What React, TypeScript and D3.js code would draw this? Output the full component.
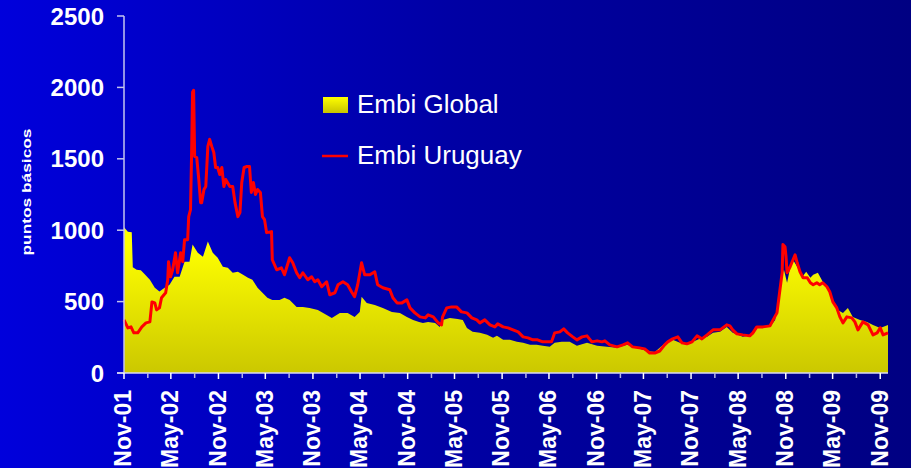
import * as React from 'react'
import { useEffect, useRef } from 'react'
import * as d3 from 'd3'

const width = 911
const height = 468

const yTicks = [0, 500, 1000, 1500, 2000, 2500]
const xLabels = ['Nov-01', 'May-02', 'Nov-02', 'May-03', 'Nov-03', 'May-04', 'Nov-04', 'May-05', 'Nov-05',
    'May-06', 'Nov-06', 'May-07', 'Nov-07', 'May-08', 'Nov-08', 'May-09', 'Nov-09']
const seriesNames = ['Embi Global', 'Embi Uruguay']

// puntos basicos
const embiGlobal: [string, number][] = [
    ['2001-11-01', 1020], ['2001-11-16', 990], ['2001-12-01', 985], ['2001-12-05', 740], ['2001-12-20', 723],
    ['2002-01-05', 720], ['2002-01-21', 690], ['2002-02-09', 653], ['2002-02-28', 597], ['2002-03-18', 570],
    ['2002-04-07', 597], ['2002-04-26', 618], ['2002-05-15', 674], ['2002-06-04', 674], ['2002-06-23', 779],
    ['2002-07-12', 779], ['2002-07-24', 899], ['2002-08-13', 842], ['2002-09-02', 814], ['2002-09-21', 920],
    ['2002-10-10', 842], ['2002-10-29', 807], ['2002-11-18', 744], ['2002-12-07', 737], ['2002-12-26', 702],
    ['2003-01-15', 709], ['2003-02-04', 688], ['2003-02-23', 667], ['2003-03-12', 653], ['2003-04-01', 597],
    ['2003-04-20', 562], ['2003-05-09', 527], ['2003-05-28', 512], ['2003-06-25', 512], ['2003-07-14', 527],
    ['2003-08-03', 512], ['2003-08-30', 463], ['2003-09-23', 463], ['2003-10-19', 456], ['2003-11-20', 442],
    ['2003-12-24', 407], ['2004-01-13', 386], ['2004-02-13', 421], ['2004-03-14', 421], ['2004-04-10', 393],
    ['2004-04-30', 428], ['2004-05-07', 534], ['2004-05-27', 491], ['2004-06-27', 477], ['2004-07-28', 456],
    ['2004-09-01', 428], ['2004-10-02', 421], ['2004-10-29', 393], ['2004-11-22', 372], ['2004-12-15', 358],
    ['2004-12-30', 351], ['2005-01-19', 358], ['2005-02-15', 351], ['2005-03-05', 323], ['2005-03-16', 372],
    ['2005-04-13', 386], ['2005-05-13', 379], ['2005-06-02', 372], ['2005-06-18', 316], ['2005-07-10', 288],
    ['2005-08-07', 281], ['2005-09-04', 267], ['2005-09-27', 246], ['2005-10-12', 260], ['2005-11-05', 232],
    ['2005-12-01', 232], ['2005-12-28', 218], ['2006-01-21', 211], ['2006-02-17', 197], ['2006-03-14', 197],
    ['2006-04-07', 190], ['2006-05-04', 183], ['2006-05-23', 211], ['2006-06-19', 218], ['2006-07-20', 218],
    ['2006-08-17', 190], ['2006-09-25', 211], ['2006-11-03', 190], ['2006-12-11', 183], ['2007-01-19', 176],
    ['2007-02-27', 197], ['2007-04-05', 176], ['2007-05-13', 154], ['2007-06-14', 147], ['2007-07-03', 176],
    ['2007-07-30', 218], ['2007-08-22', 232], ['2007-09-19', 211], ['2007-10-16', 197], ['2007-11-08', 218],
    ['2007-12-05', 239], ['2008-01-02', 253], ['2008-01-25', 281], ['2008-02-21', 288], ['2008-03-18', 323],
    ['2008-04-10', 281], ['2008-05-19', 253], ['2008-06-27', 267], ['2008-07-16', 323], ['2008-09-01', 323],
    ['2008-09-21', 372], ['2008-10-02', 491], ['2008-10-14', 667], ['2008-10-25', 723], ['2008-11-06', 632],
    ['2008-11-18', 737], ['2008-11-29', 793], ['2008-12-15', 744], ['2009-01-04', 674], ['2009-01-19', 709],
    ['2009-02-04', 667], ['2009-02-15', 688], ['2009-03-05', 702], ['2009-03-24', 639], ['2009-04-13', 597],
    ['2009-05-02', 512], ['2009-05-21', 442], ['2009-06-10', 421], ['2009-06-29', 456], ['2009-07-18', 393],
    ['2009-08-15', 372], ['2009-09-11', 358], ['2009-10-04', 337], ['2009-11-01', 316], ['2009-12-01', 337],
]

const embiUruguay: [string, number][] = [
    ['2001-11-01', 372], ['2001-11-16', 316], ['2001-11-28', 323], ['2001-12-09', 281], ['2001-12-24', 281],
    ['2002-01-09', 323], ['2002-01-25', 351], ['2002-02-09', 358], ['2002-02-17', 498], ['2002-02-28', 491],
    ['2002-03-07', 442], ['2002-03-18', 456], ['2002-03-26', 527], ['2002-04-11', 562], ['2002-04-19', 653],
    ['2002-04-22', 779], ['2002-04-30', 674], ['2002-05-08', 723], ['2002-05-19', 842], ['2002-05-27', 702],
    ['2002-06-08', 842], ['2002-06-16', 779], ['2002-06-23', 934], ['2002-07-05', 934], ['2002-07-09', 1095],
    ['2002-07-16', 1144], ['2002-07-20', 1516], ['2002-07-24', 1966], ['2002-07-28', 1980], ['2002-08-01', 1516],
    ['2002-08-09', 1509], ['2002-08-17', 1355], ['2002-08-24', 1193], ['2002-08-28', 1193], ['2002-09-06', 1285],
    ['2002-09-13', 1306], ['2002-09-21', 1587], ['2002-09-28', 1636], ['2002-10-06', 1587], ['2002-10-14', 1544],
    ['2002-10-21', 1439], ['2002-10-29', 1439], ['2002-11-06', 1390], ['2002-11-14', 1439], ['2002-11-22', 1306],
    ['2002-11-29', 1355], ['2002-12-15', 1306], ['2002-12-26', 1306], ['2003-01-04', 1193], ['2003-01-15', 1095],
    ['2003-01-23', 1123], ['2003-01-30', 1334], ['2003-02-08', 1439], ['2003-02-19', 1446], ['2003-03-01', 1446],
    ['2003-03-08', 1264], ['2003-03-16', 1334], ['2003-03-24', 1250], ['2003-04-01', 1285], ['2003-04-12', 1264],
    ['2003-04-20', 1095], ['2003-04-28', 1074], ['2003-05-06', 983], ['2003-05-25', 990], ['2003-05-28', 793],
    ['2003-06-14', 723], ['2003-07-02', 737], ['2003-07-14', 688], ['2003-08-03', 807], ['2003-08-15', 772],
    ['2003-08-30', 702], ['2003-09-11', 667], ['2003-09-23', 702], ['2003-10-12', 653], ['2003-10-27', 674],
    ['2003-11-08', 639], ['2003-11-20', 653], ['2003-12-05', 604], ['2003-12-24', 639], ['2004-01-05', 548],
    ['2004-01-25', 562], ['2004-02-06', 618], ['2004-02-25', 639], ['2004-03-14', 618], ['2004-03-29', 569],
    ['2004-04-10', 534], ['2004-04-22', 618], ['2004-05-07', 772], ['2004-05-19', 688], ['2004-06-08', 688],
    ['2004-06-27', 709], ['2004-07-08', 618], ['2004-07-28', 597], ['2004-08-24', 583], ['2004-09-05', 527],
    ['2004-09-21', 491], ['2004-10-10', 491], ['2004-10-29', 512], ['2004-11-10', 456], ['2004-11-29', 421],
    ['2004-12-19', 393], ['2005-01-08', 386], ['2005-01-19', 407], ['2005-02-08', 393], ['2005-02-27', 351],
    ['2005-03-12', 337], ['2005-03-16', 393], ['2005-04-01', 456], ['2005-04-20', 463], ['2005-05-09', 463],
    ['2005-05-28', 428], ['2005-06-18', 421], ['2005-07-07', 386], ['2005-07-26', 372], ['2005-08-07', 351],
    ['2005-08-26', 372], ['2005-09-15', 337], ['2005-10-04', 323], ['2005-10-15', 344], ['2005-11-05', 323],
    ['2005-11-24', 316], ['2005-12-13', 302], ['2006-01-02', 288], ['2006-01-21', 253], ['2006-02-09', 246],
    ['2006-02-28', 232], ['2006-03-18', 232], ['2006-04-07', 218], ['2006-04-26', 218], ['2006-05-11', 218],
    ['2006-05-23', 281], ['2006-06-12', 288], ['2006-06-27', 309], ['2006-07-12', 281], ['2006-08-01', 253],
    ['2006-08-17', 232], ['2006-09-06', 253], ['2006-09-25', 260], ['2006-10-14', 218], ['2006-11-03', 225],
    ['2006-11-22', 218], ['2006-12-03', 225], ['2006-12-22', 197], ['2007-01-19', 183], ['2007-02-11', 197],
    ['2007-03-01', 211], ['2007-03-20', 183], ['2007-04-16', 176], ['2007-05-06', 169], ['2007-05-25', 140],
    ['2007-06-14', 140], ['2007-07-03', 154], ['2007-07-22', 197], ['2007-08-03', 218], ['2007-08-22', 239],
    ['2007-09-11', 253], ['2007-09-27', 211], ['2007-10-16', 204], ['2007-11-05', 218], ['2007-11-24', 260],
    ['2007-12-13', 239], ['2008-01-02', 267], ['2008-01-25', 302], ['2008-02-21', 302], ['2008-03-18', 337],
    ['2008-03-30', 330], ['2008-04-10', 302], ['2008-04-26', 274], ['2008-05-19', 267], ['2008-06-15', 260],
    ['2008-06-27', 281], ['2008-07-12', 323], ['2008-08-05', 323], ['2008-09-01', 330], ['2008-09-13', 372],
    ['2008-09-28', 421], ['2008-10-06', 534], ['2008-10-18', 702], ['2008-10-21', 899], ['2008-10-29', 884],
    ['2008-11-02', 814], ['2008-11-06', 702], ['2008-11-18', 744], ['2008-11-29', 793], ['2008-12-07', 828],
    ['2008-12-15', 772], ['2008-12-26', 709], ['2009-01-07', 667], ['2009-01-23', 667], ['2009-02-04', 632],
    ['2009-02-15', 618], ['2009-03-01', 632], ['2009-03-12', 618], ['2009-03-24', 632], ['2009-04-09', 604],
    ['2009-04-20', 569], ['2009-05-02', 498], ['2009-05-17', 456], ['2009-05-29', 393], ['2009-06-10', 351],
    ['2009-06-25', 393], ['2009-07-14', 386], ['2009-07-26', 358], ['2009-08-07', 302], ['2009-08-26', 358],
    ['2009-09-15', 337], ['2009-10-04', 267], ['2009-10-20', 281], ['2009-11-01', 316], ['2009-11-12', 267],
    ['2009-12-01', 281],
]

const parseDate = d3.timeParse('%Y-%m-%d')
const parseLabel = d3.timeParse('%b-%y')
const font = "Arial, 'Liberation Sans', sans-serif"

const EmbiChart = () => {
    const chartRef = useRef<SVGSVGElement>(null)

    useEffect((): void => {
        const svg = d3.select(chartRef.current)
        svg.selectAll('*').remove()

        const globalData = embiGlobal.map(([d, v]) => ({ date: parseDate(d) as Date, value: v }))
        const uruguayData = embiUruguay.map(([d, v]) => ({ date: parseDate(d) as Date, value: v }))

        const xScale = d3.scaleTime()
            .domain([parseDate('2001-11-01') as Date, parseDate('2009-12-01') as Date])
            .range([124, 888])

        const yScale = d3.scaleLinear()
            .domain([0, 2500])
            .range([373, 16])

        const defs = svg.append('defs')
        const bg = defs.append('linearGradient').attr('id', 'bgGrad')
            .attr('x1', 0).attr('y1', 0).attr('x2', 1).attr('y2', 0)
        bg.append('stop').attr('offset', '0%').attr('stop-color', '#0000dc')
        bg.append('stop').attr('offset', '50%').attr('stop-color', '#0000a4')
        bg.append('stop').attr('offset', '100%').attr('stop-color', '#000082')

        const yellow = defs.append('linearGradient').attr('id', 'yellowGrad')
            .attr('gradientUnits', 'userSpaceOnUse')
            .attr('x1', 0).attr('y1', yScale(900)).attr('x2', 0).attr('y2', yScale(0))
        yellow.append('stop').attr('offset', '0%').attr('stop-color', '#ffff00')
        yellow.append('stop').attr('offset', '100%').attr('stop-color', '#cbc800')

        const legendGrad = defs.append('linearGradient').attr('id', 'legendGrad')
            .attr('x1', 0).attr('y1', 0).attr('x2', 0).attr('y2', 1)
        legendGrad.append('stop').attr('offset', '0%').attr('stop-color', '#ffff00')
        legendGrad.append('stop').attr('offset', '100%').attr('stop-color', '#c8c400')

        svg.append('rect')
            .attr('width', width)
            .attr('height', height)
            .attr('fill', 'url(#bgGrad)')

        const area = d3.area<{ date: Date, value: number }>()
            .x(d => xScale(d.date))
            .y0(yScale(0))
            .y1(d => yScale(d.value))

        svg.append('path')
            .datum(globalData)
            .attr('d', area)
            .attr('fill', 'url(#yellowGrad)')

        const line = d3.line<{ date: Date, value: number }>()
            .x(d => xScale(d.date))
            .y(d => yScale(d.value))

        svg.append('path')
            .datum(uruguayData)
            .attr('d', line)
            .attr('fill', 'none')
            .attr('stroke', '#ff0000')
            .attr('stroke-width', 3)
            .attr('stroke-linejoin', 'round')

        // y axis
        svg.append('line')
            .attr('x1', 124).attr('x2', 124)
            .attr('y1', yScale(2500)).attr('y2', yScale(0))
            .attr('stroke', '#c4c4ee').attr('stroke-width', 1.5)

        svg.selectAll('.ytick')
            .data(yTicks)
            .enter()
            .append('line')
            .attr('x1', 117).attr('x2', 124)
            .attr('y1', d => yScale(d)).attr('y2', d => yScale(d))
            .attr('stroke', '#c4c4ee').attr('stroke-width', 1.5)

        svg.selectAll('.ylabel')
            .data(yTicks)
            .enter()
            .append('text')
            .attr('x', 104)
            .attr('y', d => yScale(d))
            .attr('dy', '0.36em')
            .style('text-anchor', 'end')
            .style('font-family', font)
            .style('font-weight', 'bold')
            .style('font-size', '24px')
            .style('fill', '#ffffff')
            .text(d => d)

        svg.append('text')
            .attr('transform', 'translate(26, 192) rotate(-90)')
            .attr('dy', '0.35em')
            .attr('textLength', 127)
            .attr('lengthAdjust', 'spacingAndGlyphs')
            .style('text-anchor', 'middle')
            .style('font-family', font)
            .style('font-weight', 'bold')
            .style('font-size', '13px')
            .style('fill', '#ffffff')
            .text('puntos básicos')

        // x axis
        svg.append('line')
            .attr('x1', 117).attr('x2', 888)
            .attr('y1', yScale(0)).attr('y2', yScale(0))
            .attr('stroke', '#d8d8f4').attr('stroke-width', 1.5)

        const labelDates = xLabels.map(l => parseLabel(l) as Date)
        const minorDates = labelDates.map(d => d3.timeMonth.offset(d, 3))

        svg.selectAll('.xminor')
            .data(minorDates.filter(d => xScale(d) <= 889))
            .enter()
            .append('line')
            .attr('x1', d => xScale(d)).attr('x2', d => xScale(d))
            .attr('y1', yScale(0)).attr('y2', yScale(0) + 5)
            .attr('stroke', '#b4b4e4').attr('stroke-width', 1.5)

        svg.selectAll('.xmajor')
            .data(labelDates)
            .enter()
            .append('line')
            .attr('x1', d => xScale(d)).attr('x2', d => xScale(d))
            .attr('y1', yScale(0)).attr('y2', yScale(0) + 6)
            .attr('stroke', '#ffffff').attr('stroke-width', 1.5)

        svg.selectAll('.xlabel')
            .data(xLabels)
            .enter()
            .append('text')
            .attr('transform', (d, i) => `translate(${xScale(labelDates[i])}, 390) rotate(-90)`)
            .attr('dy', '0.32em')
            .style('text-anchor', 'end')
            .style('font-family', font)
            .style('font-weight', 'bold')
            .style('font-size', '23px')
            .style('fill', '#ffffff')
            .text(d => d)

        // legend
        svg.append('rect')
            .attr('x', 323).attr('y', 97)
            .attr('width', 25).attr('height', 16)
            .attr('fill', 'url(#legendGrad)')

        svg.append('line')
            .attr('x1', 322).attr('x2', 348)
            .attr('y1', 156).attr('y2', 156)
            .attr('stroke', '#ff0000').attr('stroke-width', 2.5)

        svg.selectAll('.legendText')
            .data(seriesNames)
            .enter()
            .append('text')
            .attr('x', 357)
            .attr('y', (d, i) => 113 + i * 51)
            .style('font-family', font)
            .style('font-size', '26px')
            .style('fill', '#ffffff')
            .text(d => d)
    }, [])

    return (
        <svg ref={chartRef} width={width} height={height}
            style={{ position: 'fixed', left: 0, top: 0, display: 'block' }}></svg>
    )
}

export default function App() {
    return <EmbiChart />
}
